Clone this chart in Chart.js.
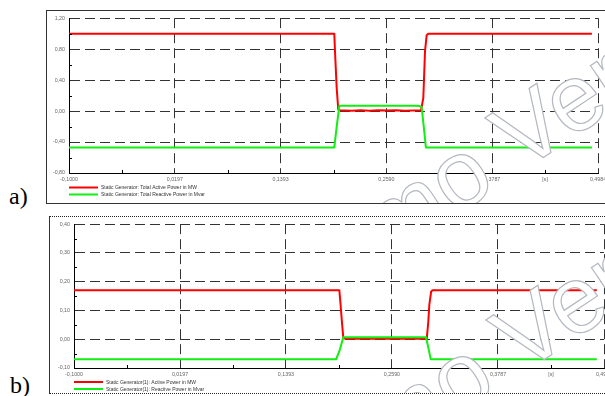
<!DOCTYPE html>
<html>
<head>
<meta charset="utf-8">
<script src="https://cdn.jsdelivr.net/npm/chart.js@4.4.1/dist/chart.umd.min.js"></script>
<style>
  html, body { margin: 0; padding: 0; width: 605px; height: 396px; overflow: hidden; background: #fff; }
  .frame { position: absolute; box-sizing: border-box; }
  #frameA { left: 46px; top: 10px; width: 640px; height: 194px; border: 1px solid #333; }
  #frameB { left: 49px; top: 216px; width: 640px; height: 178px; border: 1px dotted #222; border-left: 1px solid #333; }
  .wrap { position: absolute; }
  #wrapA { left: 47px; top: 11px; width: 600px; height: 192px; }
  #wrapB { left: 50px; top: 217px; width: 600px; height: 176px; }
  .tag { position: absolute; font-family: "Liberation Serif", "Times New Roman", serif; font-size: 24px; line-height: 24px; color: #000; }
</style>
</head>
<body>
<div class="frame" id="frameA"></div>
<div class="frame" id="frameB"></div>
<div class="wrap" id="wrapA"><canvas id="chartA" width="600" height="192"></canvas></div>
<div class="wrap" id="wrapB"><canvas id="chartB" width="600" height="176"></canvas></div>
<div class="tag" style="left:9px; top:184px;">a)</div>
<div class="tag" style="left:10px; top:373px;">b)</div>

<script>
// ---- time axis (seconds) ----
const xTickValues = [-0.1000, 0.0197, 0.1393, 0.2590, 0.3787, 0.4386, 0.4984];
const xTickLabels = ['-0,1000', '0,0197', '0,1393', '0,2590', '0,3787', '[s]', '0,4984'];
const xUnitTick = 0.4386;
const xMinorTicks = [-0.0401, 0.0795, 0.1992, 0.3189, 0.4386];

// ---- panel a: total powers ----
const yTickValuesA = [-0.80, -0.40, 0.00, 0.40, 0.80, 1.20];
const yMinorTicksA = [-0.60, -0.20, 0.20, 0.60, 1.00];
const activeA_t = [-0.1000, 0.2001, 0.2009, 0.2028, 0.2046, 0.2065, 0.2120, 0.2200, 0.2300, 0.2400, 0.2500, 0.2600, 0.2700, 0.2800, 0.2900, 0.2982, 0.3008, 0.3027, 0.3046, 0.3064, 0.4915];
const activeA_v = [1.00, 1.00, 0.77, 0.30, 0.02, 0.012, 0.008, 0.004, 0.012, 0.004, 0.010, 0.006, 0.011, 0.005, 0.009, 0.010, 0.17, 0.77, 0.98, 1.00, 1.00];
const reactiveA_t = [-0.1000, 0.2001, 0.2028, 0.2058, 0.2933, 0.2965, 0.2989, 0.3013, 0.3037, 0.4915];
const reactiveA_v = [-0.47, -0.47, -0.20, 0.068, 0.068, 0.064, 0.050, -0.20, -0.47, -0.47];

// ---- panel b: generator (1) powers ----
const yTickValuesB = [-0.10, 0.00, 0.10, 0.20, 0.30, 0.40];
const yMinorTicksB = [-0.05, 0.05, 0.15, 0.25, 0.35];
const activeB_t = [-0.1000, 0.1996, 0.2010, 0.2025, 0.2041, 0.2060, 0.2983, 0.3000, 0.3012, 0.3032, 0.3046, 0.4903];
const activeB_v = [0.17, 0.17, 0.12, 0.06, 0.004, 0.002, 0.002, 0.06, 0.12, 0.165, 0.17, 0.17];
const reactiveB_t = [-0.1000, 0.1959, 0.2003, 0.2041, 0.2975, 0.3001, 0.3028, 0.4903];
const reactiveB_v = [-0.07, -0.07, -0.035, 0.007, 0.007, -0.03, -0.07, -0.07];

const RED = '#ff0000';
const GREEN = '#11ee11';
const SANS = '"Liberation Sans", Arial, sans-serif';

function pairs(ts, vs) { return ts.map((t, i) => ({ x: t, y: vs[i] })); }
function comma(v, d) { return (Math.abs(v) < 1e-9 ? 0 : v).toFixed(d).replace('.', ','); }

// short tick marks on the inner side of the left and bottom axes
const minorTicks = {
  id: 'minorTicks',
  afterDatasetsDraw(chart, args, opts) {
    const { ctx, chartArea, scales } = chart;
    ctx.save();
    ctx.strokeStyle = '#000';
    ctx.lineWidth = 1;
    ctx.beginPath();
    opts.x.forEach(v => {
      const px = Math.round(scales.x.getPixelForValue(v)) + 0.5;
      ctx.moveTo(px, chartArea.bottom);
      ctx.lineTo(px, chartArea.bottom - 3);
    });
    opts.y.forEach(v => {
      const py = Math.round(scales.y.getPixelForValue(v)) + 0.5;
      ctx.moveTo(chartArea.left, py);
      ctx.lineTo(chartArea.left + 3, py);
    });
    ctx.stroke();
    ctx.restore();
  }
};

// line-sample legend stacked under the time axis
const lineLegend = {
  id: 'lineLegend',
  afterDraw(chart, args, opts) {
    const { ctx, chartArea } = chart;
    ctx.save();
    chart.data.datasets.forEach((ds, i) => {
      const y = chartArea.bottom + opts.top + i * 7;
      ctx.strokeStyle = ds.borderColor;
      ctx.lineWidth = 2;
      ctx.beginPath();
      ctx.moveTo(chartArea.left, y);
      ctx.lineTo(chartArea.left + 29, y);
      ctx.stroke();
      ctx.fillStyle = '#333';
      ctx.font = '5px ' + SANS;
      ctx.textBaseline = 'middle';
      ctx.fillText(ds.label, chartArea.left + 32, y + 0.5);
    });
    ctx.restore();
  }
};

// outlined "Demo Version" stamp across the lower right
const stamp = {
  id: 'stamp',
  afterDraw(chart, args, opts) {
    const { ctx } = chart;
    const text = 'Demo Version';
    ctx.save();
    ctx.font = opts.size + 'px ' + SANS;
    const pre = ctx.measureText('Demo ').width;
    const vw = ctx.measureText('V').width;
    ctx.translate(opts.vx, opts.vy);
    ctx.rotate(-33.7 * Math.PI / 180);
    ctx.translate(-(pre + vw / 2), 0);
    ctx.fillStyle = '#fff';
    ctx.fillText(text, 0, 0);
    ctx.strokeStyle = '#b4b8bf';
    ctx.lineWidth = 1.2;
    ctx.strokeText(text, 0, 0);
    ctx.restore();
  }
};

function makeChart(id, cfg) {
  const tickFont = { family: SANS, size: 5.3 };
  return new Chart(document.getElementById(id), {
    type: 'line',
    data: {
      datasets: [
        { label: cfg.activeLabel, data: pairs(cfg.at, cfg.av), borderColor: RED, borderWidth: 2, order: 1 },
        { label: cfg.reactiveLabel, data: pairs(cfg.rt, cfg.rv), borderColor: GREEN, borderWidth: 2, order: 0 }
      ]
    },
    options: {
      responsive: false,
      devicePixelRatio: 1,
      animation: false,
      events: [],
      elements: { point: { radius: 0 }, line: { tension: 0, fill: false, borderJoinStyle: 'round' } },
      layout: { padding: { top: 5, right: cfg.rightPad, left: 0, bottom: 0 } },
      plugins: {
        legend: { display: false },
        tooltip: { enabled: false },
        minorTicks: { x: xMinorTicks, y: cfg.yMinor },
        lineLegend: { top: cfg.legendTop },
        stamp: { vx: cfg.vx, vy: cfg.vy, size: 95 }
      },
      scales: {
        x: {
          type: 'linear',
          min: -0.1,
          max: 0.4984,
          afterBuildTicks: s => { s.ticks = xTickValues.map(v => ({ value: v })); },
          afterFit: s => { s.height = cfg.xHeight; },
          ticks: {
            autoSkip: false, maxRotation: 0, padding: 3,
            color: '#666', font: tickFont,
            callback: v => xTickLabels[xTickValues.indexOf(v)]
          },
          grid: {
            drawTicks: false,
            color: c => (c.tick && c.tick.value === xUnitTick) ? 'rgba(0,0,0,0)' : '#333',
            lineWidth: 1
          },
          border: { display: true, color: '#000', width: 1, dash: [10, 5] }
        },
        y: {
          min: cfg.yMin,
          max: cfg.yMax,
          afterBuildTicks: s => { s.ticks = cfg.yTicks.map(v => ({ value: v })); },
          afterFit: s => { s.width = cfg.yWidth; },
          ticks: {
            padding: 4, color: '#666', font: tickFont,
            callback: v => comma(v, 2)
          },
          grid: { drawTicks: false, color: '#333', lineWidth: 1 },
          border: { display: true, color: '#000', width: 1, dash: [10, 5] }
        }
      }
    },
    plugins: [minorTicks, lineLegend, stamp]
  });
}

makeChart('chartA', {
  activeLabel: 'Static Generator: Total Active Power in MW',
  reactiveLabel: 'Static Generator: Total Reactive Power in Mvar',
  at: activeA_t, av: activeA_v, rt: reactiveA_t, rv: reactiveA_v,
  yMin: -0.8, yMax: 1.2, yTicks: yTickValuesA, yMinor: yMinorTicksA,
  yWidth: 22, xHeight: 30, rightPad: 49, legendTop: 14.5,
  vx: 500, vy: 144
});

makeChart('chartB', {
  activeLabel: 'Static Generator(1): Active Power in MW',
  reactiveLabel: 'Static Generator(1): Reactive Power in Mvar',
  at: activeB_t, av: activeB_v, rt: reactiveB_t, rv: reactiveB_v,
  yMin: -0.1, yMax: 0.4, yTicks: yTickValuesB, yMinor: yMinorTicksB,
  yWidth: 24, xHeight: 25, rightPad: 46, legendTop: 14,
  vx: 498, vy: 140
});
</script>
</body>
</html>
